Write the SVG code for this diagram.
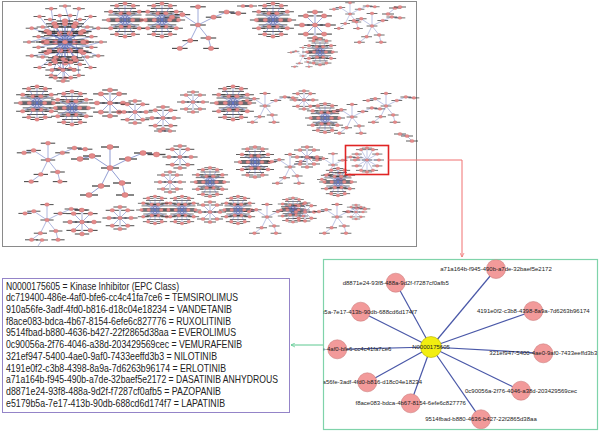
<svg xmlns="http://www.w3.org/2000/svg" xmlns:xlink="http://www.w3.org/1999/xlink" width="600" height="432" viewBox="0 0 600 432">
<style>
.frame{fill:#fff;stroke:#8a8a8a;stroke-width:1}
.hl{fill:none;stroke:#e02424;stroke-width:1.6}
.ce{stroke:#4a58a8;stroke-width:1.2;fill:none}
.pn{fill:#f29a9a;stroke:#cc8080;stroke-width:0.6}
.yn{fill:#f2ee10;stroke:#b4ac00;stroke-width:0.6}
.nl{font-family:"Liberation Sans",Arial,sans-serif;font-size:6px;fill:#222;text-anchor:middle;dominant-baseline:central}
.lg{font-family:"Liberation Sans",Arial,sans-serif;font-size:10.5px;fill:#222}
</style>
<defs>
<marker id="ar" viewBox="0 0 10 10" refX="9" refY="5" markerWidth="5" markerHeight="5" markerUnits="userSpaceOnUse" orient="auto"><path d="M1 1L9 5L1 9" fill="none" stroke="#f07070" stroke-width="1.5"/></marker>
<marker id="ag" viewBox="0 0 10 10" refX="9" refY="5" markerWidth="5" markerHeight="5" markerUnits="userSpaceOnUse" orient="auto"><path d="M1 1L9 5L1 9" fill="none" stroke="#5cc890" stroke-width="1.5"/></marker>
<clipPath id="gc"><rect x="323.5" y="259.5" width="274" height="170"/></clipPath>
<g id="lf"><rect x="-6" y="-0.45" width="12" height="0.9" fill="#2f2f2f" fill-opacity="0.85"/><ellipse rx="2.1" ry="1.6" fill="#e58a8a" stroke="#c46a6a" stroke-width="0.3"/></g>
<g id="st8"><path d="M0 0L10 0M0 0L7 7M0 0L0 10M0 0L-7 7M0 0L-10 0M0 0L-7 -7M0 0L0 -10M0 0L7 -7" stroke="#6c7cc4" stroke-width="0.5" fill="none"/>
<use href="#lf" x="10" y="0"/><use href="#lf" x="7" y="7"/><use href="#lf" x="0" y="10"/><use href="#lf" x="-7" y="7"/><use href="#lf" x="-10" y="0"/><use href="#lf" x="-7" y="-7"/><use href="#lf" x="0" y="-10"/><use href="#lf" x="7" y="-7"/><use href="#lf"/></g>
<g id="st12"><path d="M0 0L14 0M0 0L12.1 7M0 0L7 12.1M0 0L0 14M0 0L-7 12.1M0 0L-12.1 7M0 0L-14 0M0 0L-12.1 -7M0 0L-7 -12.1M0 0L0 -14M0 0L7 -12.1M0 0L12.1 -7" stroke="#6c7cc4" stroke-width="0.5" fill="none"/>
<use href="#lf" x="14" y="0"/><use href="#lf" x="12.1" y="7"/><use href="#lf" x="7" y="12.1"/><use href="#lf" x="0" y="14"/><use href="#lf" x="-7" y="12.1"/><use href="#lf" x="-12.1" y="7"/><use href="#lf" x="-14" y="0"/><use href="#lf" x="-12.1" y="-7"/><use href="#lf" x="-7" y="-12.1"/><use href="#lf" x="0" y="-14"/><use href="#lf" x="7" y="-12.1"/><use href="#lf" x="12.1" y="-7"/><use href="#lf"/></g>
<g id="dn"><g fill="#2f2f2f" fill-opacity="0.8"><rect x="-10" y="-11" width="20" height="0.9"/><rect x="-13" y="-8" width="26" height="0.9"/><rect x="-15" y="-5" width="30" height="0.9"/><rect x="-14" y="-2" width="28" height="0.9"/><rect x="-15" y="1" width="30" height="0.9"/><rect x="-13" y="4" width="26" height="0.9"/><rect x="-11" y="7" width="22" height="0.9"/><rect x="-9" y="10" width="18" height="0.9"/></g>
<path d="M0 0L15 0M0 0L13 7.5M0 0L7.5 13M0 0L0 15M0 0L-7.5 13M0 0L-13 7.5M0 0L-15 0M0 0L-13 -7.5M0 0L-7.5 -13M0 0L0 -15M0 0L7.5 -13M0 0L13 -7.5M7 0L-3.5 6.1L-3.5 -6.1ZM-7 0L3.5 -6.1L3.5 6.1ZM7 0L-7 0M3.5 6.1L-3.5 -6.1M-3.5 6.1L3.5 -6.1" stroke="#5b6cc0" stroke-width="0.5" fill="none"/>
<use href="#lf" x="15" y="0"/><use href="#lf" x="13" y="7.5"/><use href="#lf" x="7.5" y="13"/><use href="#lf" x="0" y="15"/><use href="#lf" x="-7.5" y="13"/><use href="#lf" x="-13" y="7.5"/><use href="#lf" x="-15" y="0"/><use href="#lf" x="-13" y="-7.5"/><use href="#lf" x="-7.5" y="-13"/><use href="#lf" x="0" y="-15"/><use href="#lf" x="7.5" y="-13"/><use href="#lf" x="13" y="-7.5"/><use href="#lf" x="7" y="0"/><use href="#lf" x="3.5" y="6.1"/><use href="#lf" x="-3.5" y="6.1"/><use href="#lf" x="-7" y="0"/><use href="#lf" x="-3.5" y="-6.1"/><use href="#lf" x="3.5" y="-6.1"/></g>
<g id="tr"><path d="M0 0L-12 -8M0 0L12 -6M0 0L-6 12M0 0L8 10M0 0L0 -14M12 -6L22 -10L31 -9M-6 12L-14 18M8 10L10 18M-12 -8L-20 -6" stroke="#6c7cc4" stroke-width="0.5" fill="none"/>
<use href="#lf"/><use href="#lf" x="-12" y="-8"/><use href="#lf" x="12" y="-6"/><use href="#lf" x="-6" y="12"/><use href="#lf" x="8" y="10"/><use href="#lf" x="0" y="-14"/><use href="#lf" x="22" y="-10"/><use href="#lf" x="31" y="-9"/><use href="#lf" x="-14" y="18"/><use href="#lf" x="10" y="18"/><use href="#lf" x="-20" y="-6"/></g>
<g id="hb"><path d="M12 6L36 0M12 6L33.3 13.8M12 6L25.5 25.5M12 6L13.8 33.3M-4 10L0 36M-4 10L-13.8 33.3M-4 10L-25.5 25.5M-4 10L-33.3 13.8M-10 -6L-36 0M-10 -6L-33.3 -13.8M-10 -6L-25.5 -25.5M-10 -6L-13.8 -33.3M8 -8L0 -36M8 -8L13.8 -33.3M8 -8L25.5 -25.5M8 -8L33.3 -13.8M0 0L26.5 5.3M0 0L22.4 15M0 0L15 22.4M0 0L5.3 26.5M0 0L-5.3 26.5M0 0L-15 22.4M0 0L-22.4 15M0 0L-26.5 5.3M0 0L-26.5 -5.3M0 0L-22.4 -15M0 0L-15 -22.4M0 0L-5.3 -26.5M0 0L5.3 -26.5M0 0L15 -22.4M0 0L22.4 -15M0 0L26.5 -5.3M-10 -6L8 -8L12 6L-4 10L-10 -6L12 6M8 -8L-4 10" stroke="#5a6cbf" stroke-width="0.5" fill="none"/>
<use href="#lf" x="36" y="0"/><use href="#lf" x="33.3" y="13.8"/><use href="#lf" x="25.5" y="25.5"/><use href="#lf" x="13.8" y="33.3"/><use href="#lf" x="0" y="36"/><use href="#lf" x="-13.8" y="33.3"/><use href="#lf" x="-25.5" y="25.5"/><use href="#lf" x="-33.3" y="13.8"/><use href="#lf" x="-36" y="0"/><use href="#lf" x="-33.3" y="-13.8"/><use href="#lf" x="-25.5" y="-25.5"/><use href="#lf" x="-13.8" y="-33.3"/><use href="#lf" x="0" y="-36"/><use href="#lf" x="13.8" y="-33.3"/><use href="#lf" x="25.5" y="-25.5"/><use href="#lf" x="33.3" y="-13.8"/>
<use href="#lf" x="26.5" y="5.3"/><use href="#lf" x="22.4" y="15"/><use href="#lf" x="15" y="22.4"/><use href="#lf" x="5.3" y="26.5"/><use href="#lf" x="-5.3" y="26.5"/><use href="#lf" x="-15" y="22.4"/><use href="#lf" x="-22.4" y="15"/><use href="#lf" x="-26.5" y="5.3"/><use href="#lf" x="-26.5" y="-5.3"/><use href="#lf" x="-22.4" y="-15"/><use href="#lf" x="-15" y="-22.4"/><use href="#lf" x="-5.3" y="-26.5"/><use href="#lf" x="5.3" y="-26.5"/><use href="#lf" x="15" y="-22.4"/><use href="#lf" x="22.4" y="-15"/><use href="#lf" x="26.5" y="-5.3"/>
<use href="#dn" transform="scale(1.4)"/><use href="#st12" transform="scale(1.3)"/></g>
</defs>
<rect width="600" height="432" fill="#fff"/>

<g id="overview">
<rect class="frame" x="2.5" y="1.5" width="414" height="245"/>
<use href="#hb" transform="translate(65,42)"/>
<use href="#st8" transform="translate(63,70) scale(1.1)"/>
<use href="#dn" transform="translate(125,20) scale(1.1)"/>
<use href="#dn" transform="translate(162,20) scale(1.1)"/>
<use href="#tr" transform="translate(198,25) scale(1.3)"/>
<path d="M243 6L251 6" stroke="#6c7cc4" stroke-width="0.5"/><use href="#lf" x="243" y="6"/><use href="#lf" x="251" y="6"/>
<use href="#dn" transform="translate(273,20) scale(1.1)"/>
<use href="#tr" transform="translate(303,56) scale(0.6)"/>
<use href="#st8" transform="translate(315,25) scale(1.3)"/>
<use href="#tr" transform="translate(350,14) scale(0.8)"/>
<use href="#tr" transform="translate(372,26) scale(0.9)"/>
<path d="M388 14L395 8L400 7" stroke="#6c7cc4" stroke-width="0.5" fill="none"/><use href="#lf" x="395" y="8"/><use href="#lf" x="400" y="7"/><use href="#lf" x="388" y="14"/>
<use href="#dn" transform="translate(320,52) scale(0.85)"/>

<use href="#dn" transform="translate(37,103) scale(1.1)"/>
<use href="#dn" transform="translate(72,108) scale(1.1)"/>
<use href="#st8" transform="translate(110,103) scale(1.3)"/>
<use href="#st8" transform="translate(135,112) scale(1.1)"/>
<use href="#st8" transform="translate(163,118) scale(1.1)"/>
<use href="#st8" transform="translate(193,102) scale(1.0)"/>
<use href="#dn" transform="translate(233,103) scale(1.1)"/>
<use href="#tr" transform="translate(265,106) scale(0.9)"/>
<use href="#st8" transform="translate(304,100) scale(0.9)"/>
<use href="#dn" transform="translate(325,118) scale(0.95)"/>
<use href="#tr" transform="translate(352,117) scale(0.9)"/>
<use href="#tr" transform="translate(386,106) scale(0.9)"/>

<path d="M160 131L170 131" stroke="#6c7cc4" stroke-width="0.5"/><use href="#lf" x="160" y="131"/><use href="#lf" x="170" y="131"/>
<use href="#tr" transform="translate(48,160) scale(1.2)"/>
<use href="#tr" transform="translate(110,168) scale(1.5)"/>
<use href="#st8" transform="translate(180,157) scale(1.1)"/>
<use href="#st8" transform="translate(170,182) scale(1.0)"/>
<use href="#dn" transform="translate(210,182) scale(0.95)"/>
<use href="#dn" transform="translate(255,162) scale(1.0)"/>
<use href="#tr" transform="translate(290,167) scale(0.9)"/>
<use href="#st8" transform="translate(307,157) scale(1.0)"/>
<use href="#tr" transform="translate(333,165) scale(0.8)"/>
<use href="#dn" transform="translate(338,182) scale(0.9)"/>
<use href="#st12" transform="translate(367,160) scale(0.85)"/>
<path d="M400 134L407 136L412 141" stroke="#6c7cc4" stroke-width="0.5" fill="none"/><use href="#lf" x="400" y="134"/><use href="#lf" x="407" y="136"/><use href="#lf" x="412" y="141"/>

<use href="#tr" transform="translate(47,220) scale(1.1)"/>
<path d="M42 240L38 246" stroke="#6c7cc4" stroke-width="0.5"/><use href="#lf" x="42" y="240"/>
<use href="#st8" transform="translate(82,222) scale(1.2)"/>
<use href="#st8" transform="translate(120,218) scale(1.1)"/>
<use href="#dn" transform="translate(155,210) scale(0.9)"/>
<use href="#dn" transform="translate(182,210) scale(0.9)"/>
<use href="#st8" transform="translate(210,212) scale(1.0)"/>
<use href="#dn" transform="translate(238,210) scale(0.9)"/>
<use href="#tr" transform="translate(267,217) scale(0.9)"/>
<use href="#dn" transform="translate(293,210) scale(0.8)"/>
<use href="#st8" transform="translate(305,212) scale(0.9)"/>
<use href="#tr" transform="translate(337,217) scale(0.9)"/>
<use href="#st8" transform="translate(356,212) scale(0.7)"/>
<rect class="hl" x="345.5" y="145.5" width="43" height="29"/>
</g>

<g id="legend">
<rect x="2.5" y="278.5" width="287" height="134" fill="#fff" stroke="#9484c8" stroke-width="1"/>
<text class="lg" x="6" y="289.5" textLength="173" lengthAdjust="spacingAndGlyphs">N0000175605 = Kinase Inhibitor (EPC Class)</text>
<text class="lg" x="6" y="301.2" textLength="232" lengthAdjust="spacingAndGlyphs">dc719400-486e-4af0-bfe6-cc4c41fa7ce6 = TEMSIROLIMUS</text>
<text class="lg" x="6" y="313" textLength="226" lengthAdjust="spacingAndGlyphs">910a56fe-3adf-4fd0-b816-d18c04e18234 = VANDETANIB</text>
<text class="lg" x="6" y="324.7" textLength="225" lengthAdjust="spacingAndGlyphs">f8ace083-bdca-4b67-8154-6efe6c827776 = RUXOLITINIB</text>
<text class="lg" x="6" y="336.4" textLength="230" lengthAdjust="spacingAndGlyphs">9514fbad-b880-4636-b427-22f2865d38aa = EVEROLIMUS</text>
<text class="lg" x="6" y="348.1" textLength="236" lengthAdjust="spacingAndGlyphs">0c90056a-2f76-4046-a38d-203429569cec = VEMURAFENIB</text>
<text class="lg" x="6" y="359.9" textLength="211" lengthAdjust="spacingAndGlyphs">321ef947-5400-4ae0-9af0-7433eeffd3b3 = NILOTINIB</text>
<text class="lg" x="6" y="371.6" textLength="220" lengthAdjust="spacingAndGlyphs">4191e0f2-c3b8-4398-8a9a-7d6263b96174 = ERLOTINIB</text>
<text class="lg" x="6" y="383.3" textLength="272" lengthAdjust="spacingAndGlyphs">a71a164b-f945-490b-a7de-32baef5e2172 = DASATINIB ANHYDROUS</text>
<text class="lg" x="6" y="395" textLength="215" lengthAdjust="spacingAndGlyphs">d8871e24-93f8-488a-9d2f-f7287cf0afb5 = PAZOPANIB</text>
<text class="lg" x="6" y="406.8" textLength="219" lengthAdjust="spacingAndGlyphs">e5179b5a-7e17-413b-90db-688cd6d174f7 = LAPATINIB</text>
</g>

<g id="links">
<path d="M388.5 160H462V257" fill="none" stroke="#f07070" stroke-width="1" marker-end="url(#ar)"/>
<path d="M323 345H291" fill="none" stroke="#5cc890" stroke-width="1" marker-end="url(#ag)"/>
</g>

<g id="detail">
<rect x="323.5" y="259.5" width="274" height="170" fill="#fff" stroke="#7fd3aa" stroke-width="1.2"/>
<g clip-path="url(#gc)">
<g id="connectors" class="ce">
<line x1="431" y1="347" x2="395.7" y2="282.7"/>
<line x1="431" y1="347" x2="360.7" y2="311.7"/>
<line x1="431" y1="347" x2="496" y2="269"/>
<line x1="431" y1="347" x2="533.3" y2="311"/>
<line x1="431" y1="347" x2="337.3" y2="349.3"/>
<line x1="431" y1="347" x2="543.3" y2="353.3"/>
<line x1="431" y1="347" x2="367.3" y2="382.3"/>
<line x1="431" y1="347" x2="410.7" y2="403.3"/>
<line x1="431" y1="347" x2="521" y2="390.7"/>
<line x1="431" y1="347" x2="481" y2="419.3"/>
</g>
<g id="n-d8871"><circle class="pn" cx="395.7" cy="282.7" r="9.5"/><text class="nl" x="395.7" y="282.7">d8871e24-93f8-488a-9d2f-f7287cf0afb5</text></g>
<g id="n-e5179"><circle class="pn" cx="360.7" cy="311.7" r="9.5"/><text class="nl" x="360.7" y="311.7">e5179b5a-7e17-413b-90db-688cd6d174f7</text></g>
<g id="n-a71a"><circle class="pn" cx="496" cy="269" r="9.5"/><text class="nl" x="496" y="269">a71a164b-f945-490b-a7de-32baef5e2172</text></g>
<g id="n-4191"><circle class="pn" cx="533.3" cy="311" r="9.5"/><text class="nl" x="533.3" y="311">4191e0f2-c3b8-4398-8a9a-7d6263b96174</text></g>
<g id="n-dc719"><circle class="pn" cx="337.3" cy="349.3" r="9.5"/><text class="nl" x="337.3" y="349.3">dc719400-486e-4af0-bfe6-cc4c41fa7ce6</text></g>
<g id="n-321e"><circle class="pn" cx="543.3" cy="353.3" r="9.5"/><text class="nl" x="543.3" y="353.3">321ef947-5400-4ae0-9af0-7433eeffd3b3</text></g>
<g id="n-910a"><circle class="pn" cx="367.3" cy="382.3" r="9.5"/><text class="nl" x="367.3" y="382.3">910a56fe-3adf-4fd0-b816-d18c04e18234</text></g>
<g id="n-f8ace"><circle class="pn" cx="410.7" cy="403.3" r="9.5"/><text class="nl" x="410.7" y="403.3">f8ace083-bdca-4b67-8154-6efe6c827776</text></g>
<g id="n-0c90"><circle class="pn" cx="521" cy="390.7" r="9.5"/><text class="nl" x="521" y="390.7">0c90056a-2f76-4046-a38d-203429569cec</text></g>
<g id="n-9514"><circle class="pn" cx="481" cy="419.3" r="9.5"/><text class="nl" x="481" y="419.3">9514fbad-b880-4636-b427-22f2865d38aa</text></g>
<g id="n-center"><circle class="yn" cx="431" cy="347" r="10.5"/><text class="nl" x="431" y="347">N0000175605</text></g>
</g>
</g>
</svg>
